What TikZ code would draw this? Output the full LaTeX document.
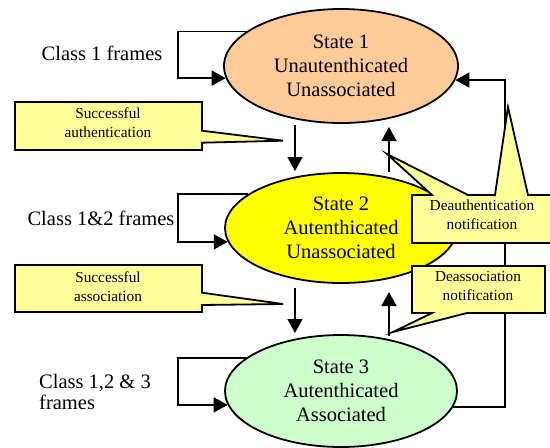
\documentclass[tikz,border=0pt]{standalone}
\usepackage{fontspec}
\setmainfont{Liberation Serif}
\usetikzlibrary{shapes.geometric,arrows.meta}
\definecolor{peach}{RGB}{255,204,153}
\definecolor{stateyellow}{RGB}{255,255,0}
\definecolor{mint}{RGB}{204,255,204}
\definecolor{notefill}{RGB}{255,255,153}

\begin{document}
\begin{tikzpicture}[x=1pt,y=-1pt,
  state/.style={ellipse,draw,line width=1.8pt,minimum width=234pt,minimum height=114pt,
    inner sep=0pt,align=center,font=\fontsize{20.5}{24}\selectfont},
  lbl/.style={inner sep=0pt,font=\fontsize{20.5}{20.5}\selectfont},
  note/.style={draw,line width=1.8pt,fill=notefill,line join=miter},
  notetext/.style={align=center,inner sep=0pt,font=\fontsize{15.3}{18.5}\selectfont},
  flow/.style={line width=1.6pt,-{Triangle[length=14pt,width=15pt]}},
]
\useasboundingbox (0,0) rectangle (550,448);

% the three states
\node[state,fill=peach] (s1) at (341,66) {State 1\\Unautenthicated\\Unassociated};
\node[state,fill=stateyellow,minimum width=232pt,minimum height=110pt] (s2) at (341,228)
  {State 2\\Autenthicated\\Unassociated};
\node[state,fill=mint,minimum width=232pt,minimum height=112pt] (s3) at (341,391)
  {State 3\\Autenthicated\\Associated};

% frame classes allowed in each state
\node[lbl] (c1) at (102,53) {Class 1 frames};
\node[lbl] (c2) at (101,218) {Class 1\&2 frames};
\node[lbl,align=left,anchor=west] (c3) at (39,392) {Class 1,2 \& 3\\frames};

% self loops
\coordinate (lx) at (178,0);
\draw[flow] (s1.160.3) -- (s1.160.3 -| lx) -- (s1.186.5 -| lx) -- (s1.186.5);
\draw[flow] (s2.160.4) -- (s2.160.4 -| lx) -- (s2.187.1 -| lx) -- (s2.187.1);
\draw[flow] (s3.161.4) -- (s3.161.4 -| lx) -- (s3.187.6 -| lx) -- (s3.187.6);

% transitions between neighbouring states
\coordinate (d12a) at (295,125);  \coordinate (d12b) at (295,171);
\coordinate (u21a) at (389,172);  \coordinate (u21b) at (389,127);
\coordinate (d23a) at (295,288);  \coordinate (d23b) at (295,333);
\coordinate (u32a) at (389,336);  \coordinate (u32b) at (389,292);
\draw[flow] (d12a) -- (d12b);
\draw[flow] (u21a) -- (u21b);
\draw[flow] (d23a) -- (d23b);
\draw[flow] (u32a) -- (u32b);

% return path from state 3 to state 1
\coordinate (rx) at (505,0);
\draw[flow] (s3.352.4) -- (s3.352.4 -| rx) -- (s1.353.5 -| rx) -- (s1.353.5);

% callouts
\draw[note] (15,102) -- (202,102) -- (202,130.7) -- (283,140.7) -- (202,142.7)
  -- (202,150) -- (15,150) -- cycle;
\node[notetext] (n1) at (108,122.5) {Successful\\authentication};

\draw[note] (15,265) -- (202,265) -- (202,292.7) -- (283,304) -- (202,305)
  -- (202,312) -- (15,312) -- cycle;
\node[notetext] (n2) at (108,286.5) {Successful\\association};

\draw[note] (412,195) -- (432,195) -- (387,154) -- (468,195) -- (495,195)
  -- (508,107) -- (528,195) -- (556,195) -- (556,243) -- (412,243) -- cycle;
\node[notetext] (n3) at (482,215) {Deauthentication\\notification};

\draw[note] (412,266) -- (545,266) -- (545,313) -- (467,313) -- (393,332)
  -- (432,313) -- (412,313) -- cycle;
\node[notetext] (n4) at (478,286) {Deassociation\\notification};
\end{tikzpicture}
\end{document}
